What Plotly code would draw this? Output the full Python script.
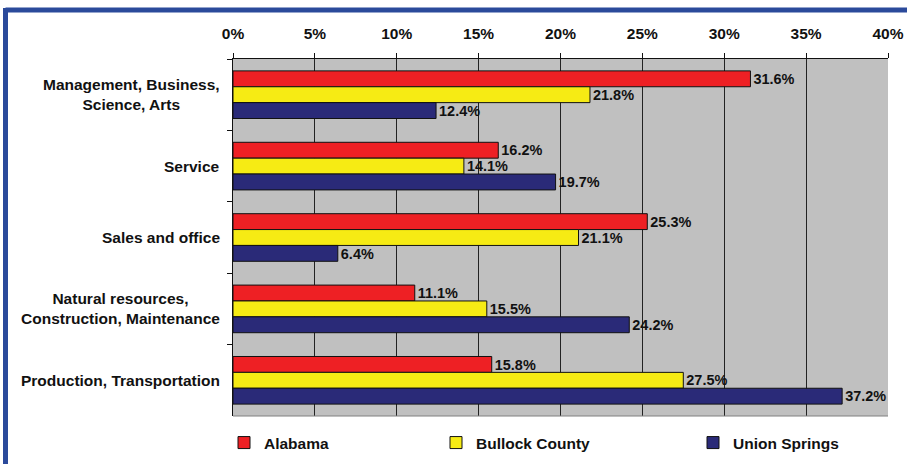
import plotly.graph_objects as go

categories = ["Management, Business,<br>Science, Arts", "Service", "Sales and office",
              "Natural resources,<br>Construction, Maintenance", "Production, Transportation"]
alabama = [31.6, 16.2, 25.3, 11.1, 15.8]
bullock = [21.8, 14.1, 21.1, 15.5, 27.5]
union_springs = [12.4, 19.7, 6.4, 24.2, 37.2]
series_names = ["Alabama", "Bullock County", "Union Springs"]
colors = ["#EE2024", "#F6EB14", "#2A2A78"]
tick_vals = [0, 5, 10, 15, 20, 25, 30, 35, 40]
tick_text = ["0%", "5%", "10%", "15%", "20%", "25%", "30%", "35%", "40%"]

W, H = 907, 464
L, R, T, B = 233, 19, 59, 48
pw, ph = W - L - R, H - T - B

def px_x(p):
    return (p - L) / pw

def px_y(p):
    return (H - B - p) / ph

font = dict(family="Arial, Liberation Sans, sans-serif", size=15.5, color="#111111", weight="bold")

fig = go.Figure()
legend_ids = ["legend", "legend2", "legend3"]
for name, vals, col, lg in zip(series_names, [alabama, bullock, union_springs], colors, legend_ids):
    fig.add_trace(go.Bar(
        y=categories, x=vals, orientation="h", name=name,
        marker=dict(color=col, line=dict(color="#111111", width=1)),
        texttemplate="%{x:.1f}%", textposition="outside",
        textfont=font, cliponaxis=False, legend=lg, showlegend=True,
    ))

legend_px = [224, 436, 693]
legend_common = dict(orientation="h", yanchor="middle", xanchor="left",
                     font=font, bgcolor="rgba(0,0,0,0)", itemwidth=30)

annotations = [
    dict(x=px_x(222), xref="paper", y=c, yref="y", text=c, showarrow=False,
         xanchor="right", yanchor="middle", align="center", font=font)
    for c in categories
]

fig.update_layout(
    width=W, height=H,
    margin=dict(l=L, r=R, t=T, b=B, pad=0, autoexpand=False),
    paper_bgcolor="white", plot_bgcolor="#C0C0C0",
    barmode="group", bargap=0.333, bargroupgap=0,
    font=font, showlegend=True,
    legend=dict(x=px_x(legend_px[0]), y=px_y(443), **legend_common),
    legend2=dict(x=px_x(legend_px[1]), y=px_y(443), **legend_common),
    legend3=dict(x=px_x(legend_px[2]), y=px_y(443), **legend_common),
    xaxis=dict(side="top", range=[0, 40], tickvals=tick_vals, ticktext=tick_text,
               showgrid=True, gridcolor="#222222", gridwidth=1,
               showline=True, linecolor="#111111", linewidth=1,
               ticks="outside", ticklen=5, tickcolor="#111111",
               tickfont=font, zeroline=False, automargin=False,
               ticklabelstandoff=8),
    yaxis=dict(autorange="reversed", type="category", tickson="boundaries",
               ticks="outside", ticklen=5, tickcolor="#111111",
               showline=True, linecolor="#111111", linewidth=1,
               showgrid=False, showticklabels=False, automargin=False),
    annotations=annotations,
    shapes=[
        dict(type="line", xref="paper", yref="paper",
             x0=px_x(5.5), x1=px_x(920), y0=px_y(10), y1=px_y(10),
             line=dict(color="#2B4A9B", width=5)),
        dict(type="line", xref="paper", yref="paper",
             x0=px_x(5.5), x1=px_x(5.5), y0=px_y(8), y1=px_y(480),
             line=dict(color="#2B4A9B", width=5)),
        dict(type="line", xref="paper", yref="paper",
             x0=0, x1=1, y0=0, y1=0, line=dict(color="#808080", width=1)),
    ],
)

fig.write_html("out.html", config={"displayModeBar": False},
               post_script="document.body.style.margin='0';document.body.style.overflow='hidden';")
